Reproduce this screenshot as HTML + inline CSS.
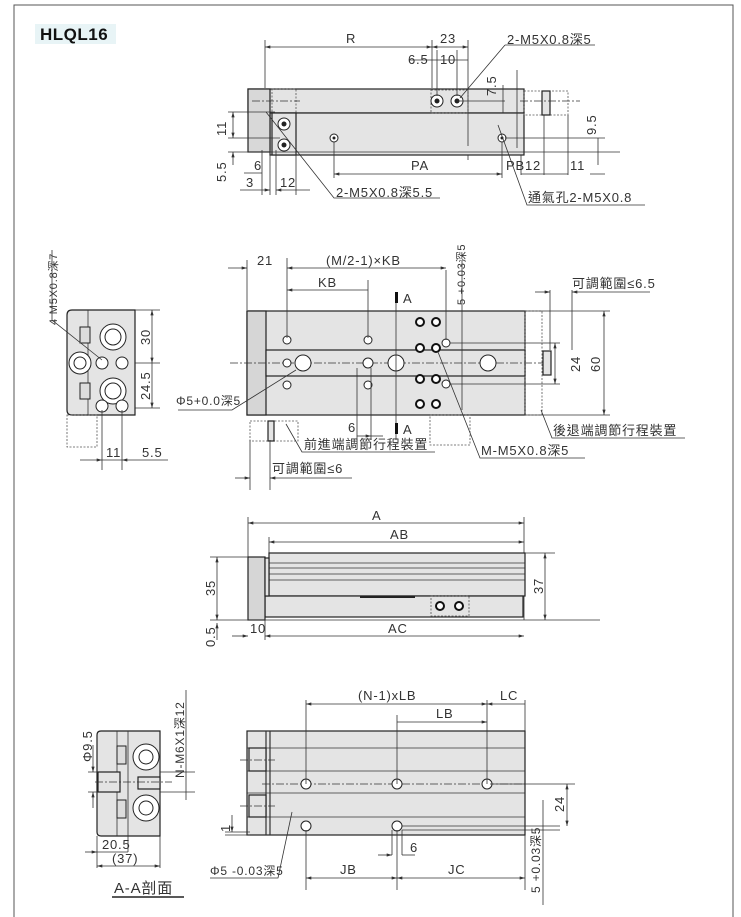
<!DOCTYPE html>
<html><head><meta charset="utf-8"><style>
body{margin:0;background:#fff}
svg{display:block}
text{font-family:"Liberation Sans","Noto Sans CJK TC",sans-serif;font-size:13px;fill:#333;letter-spacing:0.8px}
.b{fill:#e4e4e4;stroke:#222;stroke-width:1.2}
.l{stroke:#333;stroke-width:0.8;fill:none}
.c{stroke:#333;stroke-width:0.7;fill:none;stroke-dasharray:8 2 2 2}
.d{stroke:#555;stroke-width:0.8;fill:none;stroke-dasharray:2 1.5}
.h{fill:#ddd;stroke:#222;stroke-width:1}
.k{fill:#fff;stroke:#111;stroke-width:2}
</style></head><body>
<svg width="741" height="917" viewBox="0 0 741 917" xmlns="http://www.w3.org/2000/svg">
<defs>
<marker id="a" viewBox="0 0 10 6" refX="10" refY="3" markerWidth="8" markerHeight="4" orient="auto-start-reverse"><path d="M0 0L10 3L0 6z" fill="#333"/></marker>
</defs>
<path d="M14 917V5H733V917" fill="none" stroke="#555" stroke-width="1"/>
<rect x="35" y="24" width="81" height="20" fill="#e8f4f6"/>
<text x="40" y="40" style="font-size:17px;font-weight:bold;fill:#111;letter-spacing:0.5px">HLQL16</text>

<!-- TOP VIEW -->
<rect class="b" x="248" y="89" width="276" height="24"/>
<rect class="b" x="270" y="113" width="254" height="42"/>
<rect class="b" x="248" y="89" width="22" height="63" style="fill:#d8d8d8"/>
<rect class="d" x="272" y="89" width="24" height="24"/>
<rect class="b" x="272" y="113" width="24" height="42"/>
<rect class="d" x="431" y="90" width="37" height="23"/>
<rect class="d" x="524" y="91" width="44" height="24"/>
<rect class="b" x="542" y="91" width="8" height="24"/>
<g fill="#fff" stroke="#222"><circle cx="284" cy="124" r="6"/><circle cx="284" cy="145" r="6"/><circle cx="437" cy="101" r="6"/><circle cx="457" cy="101" r="6"/><circle cx="334" cy="138" r="4"/><circle cx="502" cy="138" r="4"/></g>
<g fill="#222"><circle cx="284" cy="124" r="2.5"/><circle cx="284" cy="145" r="2.5"/><circle cx="437" cy="101" r="2.5"/><circle cx="457" cy="101" r="2.5"/><circle cx="334" cy="138" r="1.5"/><circle cx="502" cy="138" r="1.5"/></g>
<path class="c" d="M252 101H300M520 101H580"/>
<path class="l" d="M265 40V88M432 40V88M468 40V146M410 60H468M437 50V96M457 50V96M517 70V148M457 101H505M468 160V155"/>
<line class="l" x1="265" y1="47" x2="432" y2="47" marker-start="url(#a)" marker-end="url(#a)"/>
<line class="l" x1="432" y1="47" x2="468" y2="47" marker-start="url(#a)" marker-end="url(#a)"/>
<text x="346" y="43">R</text><text x="440" y="43">23</text><text x="408" y="64">6.5</text><text x="440" y="64">10</text>
<text x="507" y="44">2-M5X0.8深5</text><path class="l" d="M505 45H595M505 45L460 98"/>
<text transform="translate(496,96) rotate(-90)">7.5</text>
<path class="l" d="M503 85V113"/>
<path class="l" d="M228 112H275M228 138H280M228 152H620M505 138H605"/>
<line class="l" x1="233" y1="112" x2="233" y2="138" marker-start="url(#a)" marker-end="url(#a)"/>
<text transform="translate(226,136) rotate(-90)">11</text>
<line class="l" x1="233" y1="152" x2="233" y2="165" marker-start="url(#a)"/>
<text transform="translate(226,182) rotate(-90)">5.5</text>
<path class="l" d="M262 150V195M270 150V195M276 150V195M296 150V195M334 142V178M502 142V178M521 155V175M544 115V175M568 115V175"/>
<line class="l" x1="244" y1="173" x2="262" y2="173"/><text x="254" y="170">6</text>
<line class="l" x1="240" y1="190" x2="270" y2="190" marker-end="url(#a)"/><text x="246" y="187">3</text>
<line class="l" x1="276" y1="190" x2="310" y2="190" marker-start="url(#a)"/><text x="280" y="187">12</text>
<line class="l" x1="334" y1="174" x2="502" y2="174" marker-start="url(#a)" marker-end="url(#a)"/><text x="411" y="170">PA</text>
<text x="506" y="170">PB</text><text x="525" y="170">12</text><text x="570" y="170">11</text>
<path class="l" d="M521 174H568M590 174H605"/>
<text transform="translate(596,135) rotate(-90)">9.5</text><path class="l" d="M598 138V165"/>
<path class="l" d="M266 112L334 198H440"/><text x="336" y="197">2-M5X0.8深5.5</text>
<path class="l" d="M498 125L527 205H645"/><text x="528" y="202">通氣孔2-M5X0.8</text>

<!-- MIDDLE VIEW -->
<rect class="b" x="247" y="311" width="278" height="104"/>
<rect class="b" x="247" y="311" width="19" height="104" style="fill:#d6d6d6"/>
<rect class="b" x="266" y="350" width="259" height="26"/>
<path class="c" d="M230 363H545"/>
<rect class="d" x="525" y="311" width="17" height="104"/>
<rect class="b" x="543" y="351" width="8" height="24"/>
<rect class="d" x="430" y="415" width="40" height="30"/>
<rect class="d" x="250" y="421" width="48" height="20"/>
<rect class="b" x="268" y="421" width="6" height="20"/>
<g fill="#fff" stroke="#222"><circle cx="287" cy="340" r="4"/><circle cx="368" cy="340" r="4"/><circle cx="287" cy="385" r="4"/><circle cx="368" cy="385" r="4"/><circle cx="287" cy="363" r="4"/><circle cx="303" cy="363" r="8"/><circle cx="368" cy="363" r="5"/><circle cx="396" cy="363" r="8"/><circle cx="488" cy="363" r="8"/><circle cx="446" cy="343" r="4"/><circle cx="446" cy="384" r="4"/></g>
<g class="k"><circle cx="420" cy="322" r="4"/><circle cx="436" cy="322" r="4"/><circle cx="420" cy="348" r="4"/><circle cx="436" cy="348" r="4"/><circle cx="420" cy="379" r="4"/><circle cx="436" cy="379" r="4"/><circle cx="420" cy="404" r="4"/><circle cx="436" cy="404" r="4"/></g>
<path class="l" d="M396 295V440M287 258V338M368 280V338M247 260V310M446 270V340M462 260V410M371 368V440M357 368V440"/>
<rect x="395" y="292" width="3" height="11" fill="#111"/><rect x="395" y="423" width="3" height="11" fill="#111"/>
<text x="403" y="303">A</text><text x="403" y="434">A</text>
<line class="l" x1="228" y1="268" x2="247" y2="268" marker-end="url(#a)"/><text x="257" y="265">21</text>
<line class="l" x1="287" y1="268" x2="446" y2="268" marker-start="url(#a)" marker-end="url(#a)"/><text x="326" y="265">(M/2-1)×KB</text>
<line class="l" x1="287" y1="290" x2="368" y2="290" marker-start="url(#a)"/><text x="318" y="287">KB</text>
<text transform="translate(465,305) rotate(-90)" style="font-size:11px">5 +0.03深5</text>
<line class="l" x1="357" y1="436" x2="371" y2="436" marker-end="url(#a)"/><path class="l" d="M371 436H383"/><text x="348" y="432">6</text>
<path class="l" d="M525 311H610M450 343H560M450 384H560M525 415H610"/>
<line class="l" x1="604" y1="311" x2="604" y2="415" marker-start="url(#a)" marker-end="url(#a)"/><text transform="translate(600,372) rotate(-90)">60</text>
<line class="l" x1="555" y1="343" x2="555" y2="384" marker-start="url(#a)" marker-end="url(#a)"/><text transform="translate(580,372) rotate(-90)">24</text>
<path class="l" d="M550 290V350M572 290V350"/>
<line class="l" x1="535" y1="292" x2="550" y2="292" marker-end="url(#a)"/><line class="l" x1="572" y1="292" x2="650" y2="292" marker-start="url(#a)"/>
<text x="572" y="288">可調範圍≤6.5</text>
<path class="l" d="M541 410L552 438H685"/><text x="553" y="435">後退端調節行程裝置</text>
<path class="l" d="M438 352L480 458H585"/><text x="481" y="455">M-M5X0.8深5</text>
<path class="l" d="M286 424L302 452H435"/><text x="304" y="449">前進端調節行程裝置</text>
<path class="l" d="M250 440V490M270 440V490"/>
<line class="l" x1="235" y1="478" x2="250" y2="478" marker-end="url(#a)"/><line class="l" x1="270" y1="478" x2="352" y2="478" marker-start="url(#a)"/>
<text x="272" y="473">可調範圍≤6</text>
<path class="l" d="M296 370L232 410H178"/><text x="176" y="405" style="font-size:12px">Φ5+0.0深5</text>

<!-- LEFT SIDE VIEW -->
<path class="b" d="M67 315Q67 310 72 310H135V415H72Q67 415 67 410Z"/>
<path class="l" d="M88 310V415"/>
<rect class="d" x="67" y="415" width="30" height="32"/>
<rect class="h" x="80" y="327" width="10" height="16"/><rect class="h" x="80" y="383" width="10" height="16"/>
<g fill="#fff" stroke="#222"><circle cx="113" cy="337" r="13"/><circle cx="113" cy="337" r="8"/><circle cx="113" cy="391" r="13"/><circle cx="113" cy="391" r="8"/><circle cx="80" cy="363" r="11"/><circle cx="80" cy="363" r="6"/><circle cx="102" cy="363" r="6"/><circle cx="122" cy="363" r="6"/><circle cx="102" cy="406" r="6"/><circle cx="122" cy="406" r="6"/></g>
<path class="l" d="M135 310H160M135 363H160M135 408H160M102 410V470M122 410V470"/>
<line class="l" x1="152" y1="310" x2="152" y2="363" marker-start="url(#a)" marker-end="url(#a)"/><text transform="translate(150,345) rotate(-90)">30</text>
<line class="l" x1="152" y1="363" x2="152" y2="408" marker-end="url(#a)"/><text transform="translate(150,400) rotate(-90)">24.5</text>
<line class="l" x1="80" y1="460" x2="102" y2="460" marker-end="url(#a)"/><line class="l" x1="102" y1="460" x2="122" y2="460"/><line class="l" x1="140" y1="460" x2="122" y2="460" marker-end="url(#a)"/><path class="l" d="M140 460H168"/>
<text x="106" y="457">11</text><text x="142" y="457">5.5</text>
<text transform="translate(57,325) rotate(-90)" style="font-size:11px">4  M5X0.8深7</text>
<path class="l" d="M52 250V320L102 360"/>

<!-- THIRD VIEW -->
<path class="l" d="M248 517V620M524 517V620M269 537V553"/>
<line class="l" x1="248" y1="523" x2="524" y2="523" marker-start="url(#a)" marker-end="url(#a)"/><text x="372" y="520">A</text>
<line class="l" x1="269" y1="542" x2="524" y2="542" marker-start="url(#a)" marker-end="url(#a)"/><text x="390" y="539">AB</text>
<rect class="b" x="269" y="553" width="256" height="43"/>
<path class="l" d="M269 563H525M269 568H525M269 574H525M269 580H525"/>
<rect class="b" x="265" y="596" width="258" height="21"/>
<rect class="b" x="248" y="557" width="17" height="63" style="fill:#d6d6d6"/>
<rect class="b" x="265" y="558" width="4" height="38"/>
<path d="M360 597H415" stroke="#222" stroke-width="2"/>
<rect class="d" x="431" y="596" width="38" height="20"/>
<g class="k"><circle cx="440" cy="606" r="4"/><circle cx="459" cy="606" r="4"/></g>
<path class="l" d="M210 557H248M210 620H600M525 553H555"/>
<line class="l" x1="217" y1="557" x2="217" y2="620" marker-start="url(#a)" marker-end="url(#a)"/><text transform="translate(215,596) rotate(-90)">35</text>
<line class="l" x1="545" y1="553" x2="545" y2="620" marker-start="url(#a)" marker-end="url(#a)"/><text transform="translate(543,594) rotate(-90)">37</text>
<line class="l" x1="217" y1="640" x2="217" y2="623" marker-end="url(#a)"/><text transform="translate(215,647) rotate(-90)">0.5</text>
<line class="l" x1="232" y1="636" x2="248" y2="636" marker-end="url(#a)"/><text x="250" y="633">10</text>
<line class="l" x1="265" y1="636" x2="524" y2="636" marker-start="url(#a)" marker-end="url(#a)"/><text x="388" y="633">AC</text>
<path class="l" d="M265 620V640"/>

<!-- BOTTOM VIEW -->
<rect class="b" x="247" y="731" width="278" height="104"/>
<path class="l" d="M247 748H525M247 771H525M247 793H525M247 817H525"/>
<path class="l" d="M266 731V835M270 731V835" style="stroke-width:1.2"/>
<rect class="b" x="249" y="748" width="17" height="23"/><rect class="b" x="249" y="795" width="17" height="22"/>
<path class="c" d="M262 784H525M240 760H275M240 806H275"/>
<g fill="#fff" stroke="#222"><circle cx="306" cy="784" r="5"/><circle cx="397" cy="784" r="5"/><circle cx="487" cy="784" r="5"/><circle cx="306" cy="826" r="5"/><circle cx="397" cy="826" r="5"/></g>
<path class="l" d="M306 700V784M397 715V784M487 700V784M525 700V731M306 830V890M397 830V890M392 830V855M402 830V855M525 835V890M490 784H575M402 826H560M402 830H560"/>
<line class="l" x1="306" y1="704" x2="487" y2="704" marker-start="url(#a)" marker-end="url(#a)"/><text x="358" y="700">(N-1)xLB</text>
<line class="l" x1="487" y1="704" x2="525" y2="704" marker-start="url(#a)"/><text x="500" y="700">LC</text>
<line class="l" x1="397" y1="722" x2="487" y2="722" marker-end="url(#a)"/><text x="436" y="718">LB</text>
<line class="l" x1="567" y1="784" x2="567" y2="826" marker-start="url(#a)" marker-end="url(#a)"/><text transform="translate(564,812) rotate(-90)">24</text>
<line class="l" x1="306" y1="878" x2="397" y2="878" marker-start="url(#a)" marker-end="url(#a)"/><text x="340" y="874">JB</text>
<line class="l" x1="397" y1="878" x2="525" y2="878" marker-start="url(#a)" marker-end="url(#a)"/><text x="448" y="874">JC</text>
<line class="l" x1="378" y1="855" x2="392" y2="855" marker-end="url(#a)"/><path class="l" d="M402 855H415"/><text x="410" y="852">6</text>
<path class="l" d="M225 835H250M225 832H250"/>
<line class="l" x1="232" y1="815" x2="232" y2="832" marker-end="url(#a)"/><text transform="translate(230,832) rotate(-90)">1</text>
<path class="l" d="M543 800V905"/><text transform="translate(540,893) rotate(-90)" style="font-size:12px">5 +0.03深5</text>
<path class="l" d="M292 812L278 878H210"/><text x="210" y="875" style="font-size:12px">Φ5 -0.03深5</text>

<!-- A-A SECTION -->
<path class="b" d="M97 735Q97 731 101 731H160V836H101Q97 836 97 832Z"/>
<path class="l" d="M117 731V836M128 731V836"/>
<rect class="h" x="117" y="746" width="9" height="18"/><rect class="h" x="117" y="800" width="9" height="18"/>
<rect class="b" x="98" y="772" width="22" height="20"/>
<rect class="b" x="138" y="777" width="22" height="12"/>
<g fill="#fff" stroke="#222"><circle cx="146" cy="757" r="13"/><circle cx="146" cy="757" r="7"/><circle cx="146" cy="808" r="13"/><circle cx="146" cy="808" r="7"/></g>
<path class="c" d="M95 782H172"/>
<path class="l" d="M160 772H195M160 792H195M88 772H98M88 792H98M97 836V868M160 836V868M128 836V852M186 690V800"/>
<line class="l" x1="93" y1="745" x2="93" y2="772" marker-end="url(#a)"/><line class="l" x1="93" y1="808" x2="93" y2="792" marker-end="url(#a)"/>
<text transform="translate(92,762) rotate(-90)">Φ9.5</text>
<text transform="translate(184,778) rotate(-90)" style="font-size:12px">N-M6X1深12</text>
<line class="l" x1="85" y1="852" x2="97" y2="852" marker-end="url(#a)"/><line class="l" x1="97" y1="852" x2="128" y2="852"/><text x="102" y="849">20.5</text>
<line class="l" x1="97" y1="866" x2="160" y2="866" marker-start="url(#a)" marker-end="url(#a)"/><text x="112" y="863">(37)</text>
<text x="114" y="893" style="font-size:15px">A-A剖面</text>
<path d="M112 897H184" stroke="#222" stroke-width="1.5"/>
</svg>
</body></html>
